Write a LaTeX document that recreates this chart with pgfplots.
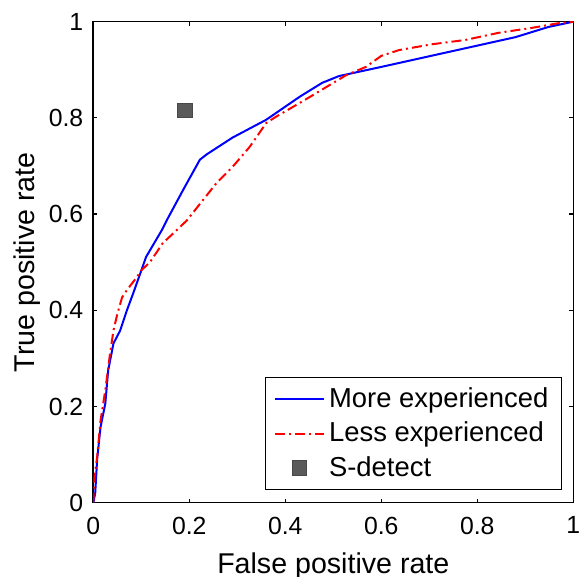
\documentclass[border=0pt]{standalone}
\usepackage{pgfplots}
\pgfplotsset{compat=1.18}
\usepackage{fontspec}
\setmainfont{Liberation Sans}
\definecolor{sgray}{RGB}{90,90,90}
\pgfplotsset{
    lineleg/.style={legend image code/.code={\draw[##1] (0cm,0cm) -- (0.86cm,0cm);}},
    markleg/.style={legend image code/.code={\draw[##1] plot coordinates {(0.43cm,0cm)};}},
}

\begin{document}
\begin{tikzpicture}
\begin{axis}[
    width=240pt, height=240.5pt,
    scale only axis,
    xmin=0, xmax=1, ymin=0, ymax=1,
    xtick={0,0.2,0.4,0.6,0.8,1},
    ytick={0,0.2,0.4,0.6,0.8,1},
    xticklabels={0,0.2,0.4,0.6,0.8,1},
    yticklabels={0,0.2,0.4,0.6,0.8,1},
    tick align=inside,
    major tick length=2pt,
    tick style={black, line width=0.6pt},
    axis line style={black, line width=0.8pt},
    ticklabel style={font=\fontsize{12.4}{14}\selectfont},
    xticklabel style={yshift=-3.5pt},
    yticklabel style={xshift=-1.5pt},
    /pgf/number format/assume math mode=true,
    xlabel={False positive rate},
    ylabel={True positive rate},
    xlabel style={font=\fontsize{14.3}{16}\selectfont, inner sep=0pt,
        at={(axis description cs:0.5,-0.1025)}, anchor=north},
    ylabel style={font=\fontsize{14.3}{16}\selectfont, inner sep=0pt,
        at={(axis description cs:-0.167,0.5)}, anchor=north},
    legend style={
        at={(rel axis cs:0.9765,0.0264)}, anchor=south east,
        font=\fontsize{13.7}{15}\selectfont,
        draw=black, line width=0.6pt,
        row sep=1.8pt,
        inner xsep=4.5pt, inner ysep=3pt,
    },
    legend cell align=left,
]
\coordinate (O) at (rel axis cs:0,0);
% More experienced
\addplot[blue, line width=1pt, lineleg] coordinates {
    (0,0) (0.004,0.02) (0.008,0.09) (0.015,0.157) (0.025,0.206)
    (0.031,0.275) (0.042,0.331) (0.056,0.358) (0.07,0.4) (0.083,0.435)
    (0.098,0.477) (0.11,0.511) (0.143,0.567) (0.153,0.587) (0.187,0.65)
    (0.222,0.713) (0.236,0.724) (0.29,0.759) (0.36,0.796) (0.43,0.844)
    (0.477,0.873) (0.512,0.887) (0.60,0.906) (0.74,0.937) (0.88,0.968)
    (0.948,0.989) (1,1)
};
\addlegendentry{More experienced}

% Less experienced
\addplot[red, line width=1pt, dash pattern=on 5pt off 2pt on 1pt off 2pt, lineleg] coordinates {
    (0,0) (0.002,0.05) (0.008,0.095) (0.015,0.17) (0.025,0.234)
    (0.035,0.311) (0.042,0.358) (0.05,0.392) (0.06,0.427) (0.07,0.442)
    (0.09,0.468) (0.10,0.483) (0.118,0.5) (0.145,0.54) (0.17,0.563)
    (0.195,0.587) (0.257,0.665) (0.29,0.698) (0.326,0.74) (0.36,0.789)
    (0.38,0.802) (0.43,0.831) (0.477,0.859) (0.527,0.889) (0.568,0.906)
    (0.60,0.929) (0.637,0.941) (0.705,0.953) (0.775,0.962) (0.845,0.977)
    (0.913,0.987) (0.97,0.997) (1,1)
};
\addlegendentry{Less experienced}

% S-detect
\addplot[only marks, mark=square*, mark size=3.6pt,
    mark options={fill=sgray, draw=sgray!80!black, line width=0.4pt}, markleg]
    coordinates {(0.191,0.815)};
\addlegendentry{S-detect}
\end{axis}
\pgfresetboundingbox
\path (O) ++(-46.65pt,-37.15pt) rectangle ++(289.5pt,288.5pt);
\end{tikzpicture}
\end{document}
